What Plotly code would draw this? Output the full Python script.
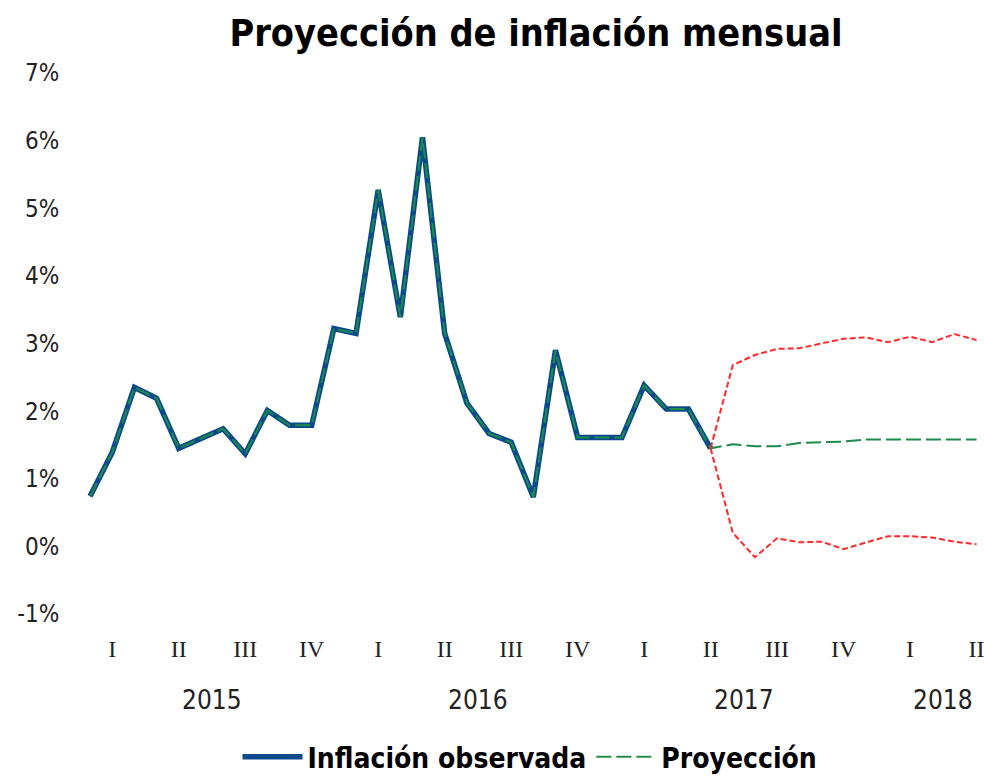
import plotly.graph_objects as go
import pandas as pd

# ---------------- data ----------------
months = [d.strftime("%Y-%m") for d in pd.date_range("2015-01-01", "2018-05-01", freq="MS")]

observed = [0.74, 1.39, 2.35, 2.19, 1.45, 1.60, 1.74, 1.37, 2.01, 1.79, 1.79, 3.22,
            3.15, 5.27, 3.39, 6.05, 3.15, 2.12, 1.67, 1.54, 0.73, 2.90, 1.61, 1.61,
            1.61, 2.38, 2.03, 2.03, 1.45]
# projection from 2017-05 to 2018-05
proj_central = [1.45, 1.51, 1.48, 1.48, 1.53, 1.54, 1.55, 1.58, 1.58, 1.58, 1.58, 1.58, 1.58]
proj_upper = [1.45, 2.68, 2.83, 2.92, 2.93, 3.00, 3.07, 3.09, 3.02, 3.10, 3.02, 3.14, 3.05]
proj_lower = [1.45, 0.20, -0.16, 0.12, 0.06, 0.07, -0.04, 0.05, 0.15, 0.15, 0.13, 0.07, 0.03]

quarter_names = ["I", "II", "III", "IV"]
y_ticks = [-1, 0, 1, 2, 3, 4, 5, 6, 7]
y_tick_text = ["-1%", "0%", "1%", "2%", "3%", "4%", "5%", "6%", "7%"]

# ---------------- derived ----------------
idx = list(range(len(months)))
n_obs = len(observed)
obs_x = idx[:n_obs]
proj_x = idx[n_obs - 1:n_obs - 1 + len(proj_central)]
central_all = observed + proj_central[1:]

# quarter ticks at middle month of each quarter
q_vals, q_text, q_year = [], [], []
for i, m in enumerate(months):
    mo = int(m[5:])
    if mo % 3 == 2:
        q_vals.append(i)
        q_text.append(quarter_names[(mo - 1) // 3])
        q_year.append(m[:4])

years = sorted(set(q_year))
year_pos = {y: sum(v for v, yy in zip(q_vals, q_year) if yy == y) / q_year.count(y) for y in years}

SANS = "DejaVu Sans Condensed, Liberation Sans Narrow, Liberation Sans, Arial"
NAVY = "#0b4a8a"
GREEN = "#1e8c4c"
RED = "#ff2a2a"

fig = go.Figure()
fig.add_trace(go.Scatter(x=obs_x, y=observed, mode="lines", name="Inflación observada",
                         line=dict(color=NAVY, width=5.5)))
fig.add_trace(go.Scatter(x=idx[:len(central_all)], y=central_all, mode="lines", name="Proyección",
                         line=dict(color=GREEN, width=2, dash="15px,5px")))
fig.add_trace(go.Scatter(x=proj_x, y=proj_upper, mode="lines", showlegend=False,
                         line=dict(color=RED, width=2, dash="6px,3px")))
fig.add_trace(go.Scatter(x=proj_x, y=proj_lower, mode="lines", showlegend=False,
                         line=dict(color=RED, width=2, dash="6px,3px")))

for y in years:
    fig.add_annotation(x=year_pos[y], xref="x", y=-0.159, yref="paper", text=y,
                       showarrow=False, yanchor="middle",
                       font=dict(family=SANS, size=26, color="#222222"))

fig.update_layout(
    width=984, height=776,
    margin=dict(l=79, r=3, t=73, b=162),
    paper_bgcolor="white", plot_bgcolor="white",
    title=dict(text="<b>Proyección de inflación mensual</b>", x=536 / 984, xref="container",
               y=1 - 33 / 776, yref="container", yanchor="middle", xanchor="center",
               font=dict(family=SANS, size=37.5, color="black")),
    xaxis=dict(range=[-0.5, 40.2], tickvals=q_vals, ticktext=q_text, showgrid=False,
               zeroline=False, showline=False, ticks="outside", ticklen=13,
               tickcolor="rgba(0,0,0,0)", automargin=False, ticklabeloverflow="allow",
               tickfont=dict(family="Liberation Serif, DejaVu Serif, serif", size=24, color="#222222")),
    yaxis=dict(range=[-1, 7], tickvals=y_ticks, ticktext=y_tick_text, showgrid=False,
               zeroline=False, showline=False, ticks="outside", ticklen=14,
               tickcolor="rgba(0,0,0,0)", automargin=False,
               tickfont=dict(family=SANS, size=24, color="#222222")),
    legend=dict(orientation="h", x=530 / 984, xref="container", xanchor="center",
                y=1 - 757 / 776, yref="container", yanchor="middle",
                font=dict(family=SANS, size=28, color="black", weight="bold"),
                itemwidth=60, bgcolor="rgba(0,0,0,0)", traceorder="normal"),
    showlegend=True,
)

fig.write_html("out.html", config={"displayModeBar": False},
               post_script="document.body.style.margin='0';")
